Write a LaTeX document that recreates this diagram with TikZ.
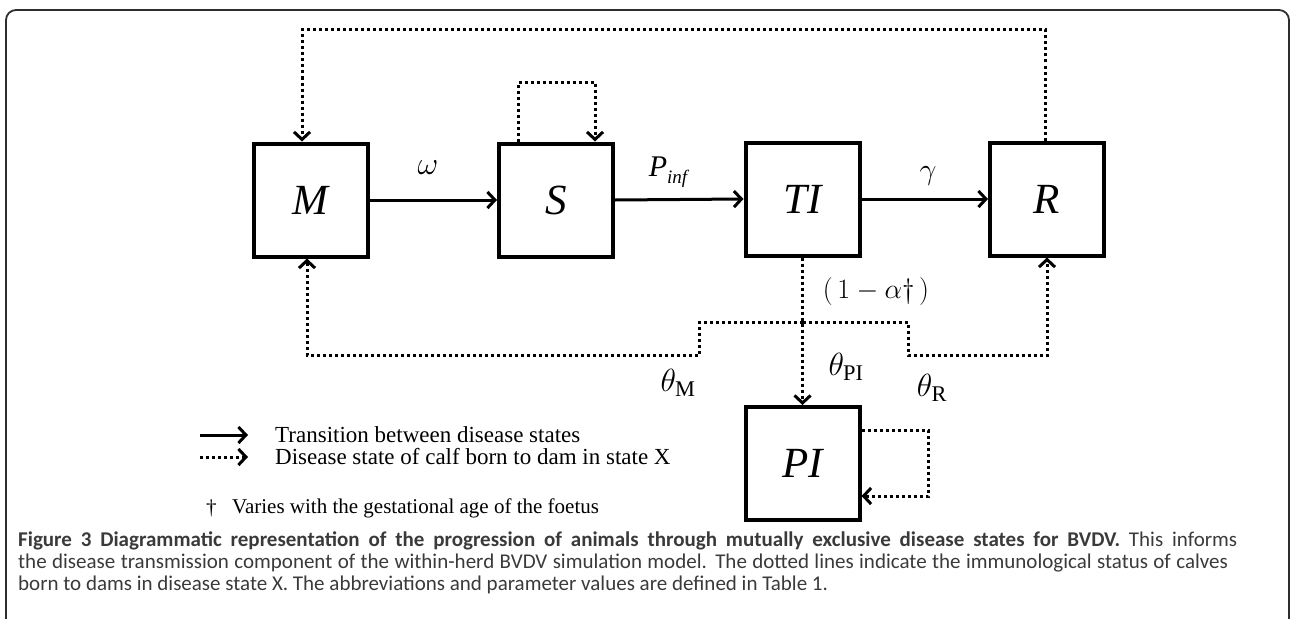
\documentclass[tikz,border=0pt]{standalone}
\usepackage{fix-cm}
\usepackage{fontspec}
\setmainfont{Liberation Serif}
\newfontfamily\capfont{Carlito}
\usetikzlibrary{arrows.meta,calc}
\definecolor{capgray}{HTML}{3A3A3A}
\definecolor{framegray}{HTML}{2E2E2E}
\begin{document}
\begin{tikzpicture}[x=1pt,y=-1pt,
  box/.style={draw, line width=4pt, minimum width=114pt, minimum height=113pt, inner sep=0pt, font=\fontsize{43}{48}\selectfont\itshape},
  solidarrow/.style={line width=3pt, -{Straight Barb[length=7.5pt,width=16pt]}},
  dotline/.style={line width=3pt, dash pattern=on 3pt off 3pt},
  dotarrow/.style={dotline, -{Straight Barb[length=7.5pt,width=16pt]}},
  lbl/.style={font=\fontsize{32}{36}\selectfont, inner sep=0pt},
  legtext/.style={font=\fontsize{23}{26}\selectfont, inner sep=0pt, anchor=west},
  capnode/.style={font=\capfont\fontsize{21}{22}\selectfont, text=capgray, inner sep=0pt, anchor=base west}]
\useasboundingbox (0,0) rectangle (1292,618);
% frame
\draw[framegray, line width=1.8pt, rounded corners=10pt] (6,640) -- (6,10) -- (1289,10) -- (1289,640);
% boxes
\node[box] (M) at (310.5,200) {M};
\node[box] (S) at (556,200) {S};
\node[box] (TI) at (802.5,199) {TI};
\node[box] (R) at (1047,199) {R};
\node[box] (PI) at (802.5,463.5) {PI};
% solid transitions
\draw[solidarrow] (M.east) -- (S.west);
\draw[solidarrow] (S.east) -- (TI.west);
\draw[solidarrow] (TI.east) -- (R.west);
\node[lbl] (lw) at (428,168) {$\omega$};
\node[lbl, font=\fontsize{30}{34}\selectfont] (lp) at (668,172) {{\itshape P}\raisebox{-7pt}{\fontsize{19}{21}\selectfont\itshape inf}};
\node[lbl, font=\fontsize{30}{34}\selectfont] (lg) at (928,176) {$\gamma$};
% top loop R -> M
\coordinate (Rt) at ($(R.north)+(-2,0)$);
\coordinate (Mt) at ($(M.north)+(-8.5,0)$);
\coordinate (topY) at (0,30);
\draw[dotarrow] (Rt) -- (Rt |- topY) -- (Mt |- topY) -- (Mt);
% S self loop
\coordinate (Sa) at ($(S.north)+(-38,0)$);
\coordinate (Sb) at ($(S.north)+(39,0)$);
\coordinate (sY) at (0,82);
\draw[dotarrow] (Sa) -- (Sa |- sY) -- (Sb |- sY) -- (Sb);
% TI -> PI
\draw[dotarrow] (TI.south) -- (PI.north);
\node[lbl, font=\fontsize{28}{32}\selectfont] (la) at (876,291) {$(\,1-\alpha\dagger\,)$};
% branches
\coordinate (brA) at (0,322);
\coordinate (brB) at (0,355);
\coordinate (bl) at (699,0);
\coordinate (br) at (908,0);
\coordinate (Mb) at ($(M.south)+(-3.5,0)$);
\draw[dotarrow] (TI.south |- brA) -- (bl |- brA) -- (bl |- brB) -- (Mb |- brB) -- (Mb);
\draw[dotarrow] (TI.south |- brA) -- (br |- brA) -- (br |- brB) -- (R.south |- brB) -- (R.south);
\node[lbl] (tM) at (678,383) {$\theta_{\mathrm{M}}$};
\node[lbl] (tPI) at (846,367) {$\theta_{\mathrm{PI}}$};
\node[lbl] (tR) at (932,388) {$\theta_{\mathrm{R}}$};
% PI self loop
\coordinate (Pa) at ($(PI.east)+(0,-33.5)$);
\coordinate (Pb) at ($(PI.east)+(0,32.5)$);
\coordinate (lx) at (928,0);
\draw[dotarrow] (Pa) -- (Pa -| lx) -- (Pb -| lx) -- (Pb);
% legend
\coordinate (l1a) at (200,435);
\coordinate (l1b) at (248,435);
\coordinate (l2a) at (200,457);
\coordinate (l2b) at (248,457);
\draw[solidarrow] (l1a) -- (l1b);
\draw[dotarrow] (l2a) -- (l2b);
\node[legtext] (t1) at (275,435) {Transition between disease states};
\node[legtext] (t2) at (275,457) {Disease state of calf born to dam in state X};
\node[legtext, font=\fontsize{21}{24}\selectfont] (dg) at (206,508) {†};
\node[legtext, font=\fontsize{21}{24}\selectfont] (t3) at (232,508) {Varies with the gestational age of the foetus};
% caption
\node[capnode] (c1) at (18,546) {\makebox[1219pt][s]{\bfseries Figure 3 Diagrammatic representation of the progression of animals through mutually exclusive disease states for BVDV.\mdseries{} This informs}};
\node[capnode] (c2) at (18,568) {\makebox[1210pt][s]{the disease transmission component of the within-herd BVDV simulation model. The dotted lines indicate the immunological status of calves}};
\node[capnode] (c3) at (18,590) {born to dams in disease state X. The abbreviations and parameter values are defined in Table 1.};
\end{tikzpicture}
\end{document}
